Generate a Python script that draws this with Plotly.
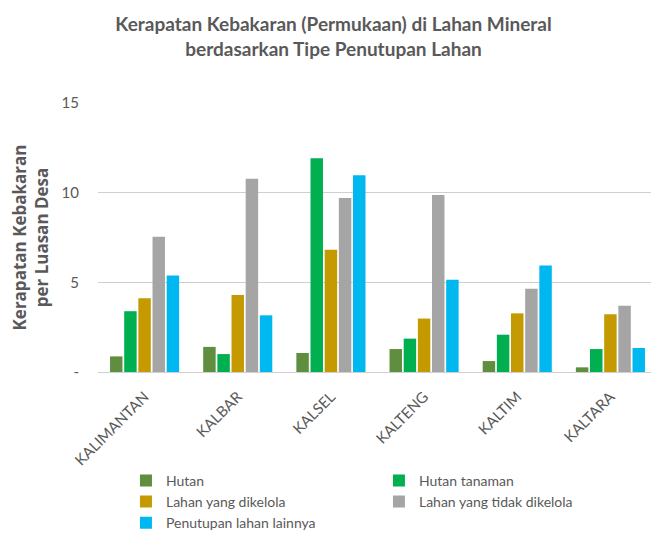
import plotly.graph_objects as go

categories = ["KALIMANTAN", "KALBAR", "KALSEL", "KALTENG", "KALTIM", "KALTARA"]
series_names = ["Hutan", "Hutan tanaman", "Lahan yang dikelola",
                "Lahan yang tidak dikelola", "Penutupan lahan lainnya"]
hutan = [0.87, 1.40, 1.06, 1.28, 0.61, 0.26]
hutan_tanaman = [3.39, 1.00, 11.92, 1.86, 2.08, 1.28]
lahan_dikelola = [4.11, 4.30, 6.82, 2.98, 3.27, 3.22]
lahan_tidak_dikelola = [7.54, 10.78, 9.70, 9.87, 4.64, 3.69]
penutupan_lainnya = [5.38, 3.16, 10.97, 5.14, 5.94, 1.34]
y_tickvals = [0, 5, 10, 15]
y_ticktext = ["-", "5", "10", "15"]

series_values = [hutan, hutan_tanaman, lahan_dikelola, lahan_tidak_dikelola, penutupan_lainnya]
colors = ["#5F8E3E", "#00B050", "#C49A00", "#A5A5A5", "#00B8F0"]

FONT = "Lato"
GRAY = "#595959"

fig = go.Figure()
for name, vals, col in zip(series_names, series_values, colors):
    fig.add_trace(go.Bar(x=categories, y=vals, name=name, marker_color=col,
                         marker_line_width=0))

# page body has an 8px default margin, so the figure is 8px smaller each way
fig.update_layout(
    width=651, height=528,
    paper_bgcolor="white", plot_bgcolor="white",
    margin=dict(l=90, r=2, t=95, b=164, autoexpand=False),
    barmode="group", bargap=0.24, bargroupgap=0.12,
    title=dict(text="Kerapatan Kebakaran (Permukaan) di Lahan Mineral<br>berdasarkan Tipe Penutupan Lahan",
               x=0.5, xanchor="center", xref="container", y=0.956, yref="container",
               yanchor="middle",
               font=dict(family=FONT, size=19, color=GRAY, weight="bold")),
    font=dict(family=FONT, color=GRAY),
    showlegend=True,
    legend=dict(orientation="h", x=0.05, xanchor="left", y=-0.345, yanchor="top",
                entrywidth=208, font=dict(family=FONT, size=14, color=GRAY),
                itemwidth=30, tracegroupgap=0),
)
fig.update_xaxes(tickangle=-45, tickfont=dict(family=FONT, size=15, color=GRAY),
                 showline=True, linecolor="#CFCFCF", linewidth=1.3, ticks="",
                 showgrid=False, automargin=False, ticklabelstandoff=9)
fig.update_yaxes(range=[0, 15], tickvals=y_tickvals, ticktext=y_ticktext,
                 tickfont=dict(family=FONT, size=15, color=GRAY),
                 showgrid=True, gridcolor="#CFCFCF", gridwidth=1.3,
                 zeroline=False, ticklabelstandoff=18, automargin=False,
                 title=dict(text="<b>Kerapatan Kebakaran<br>per Luasan Desa</b>",
                            font=dict(family="Open Sans", size=17, color=GRAY), standoff=16))

fig.write_html("out.html")
